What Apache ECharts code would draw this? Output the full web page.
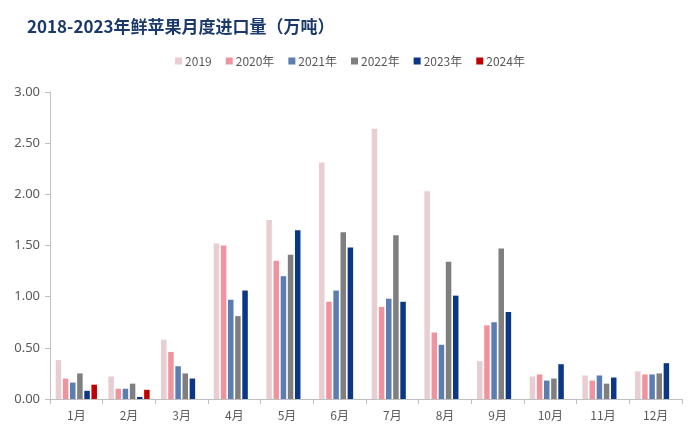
<!DOCTYPE html>
<html>
<head>
<meta charset="utf-8">
<script src="https://cdn.jsdelivr.net/npm/echarts@6/dist/echarts.min.js"></script>
<style>html,body{margin:0;padding:0;background:#fff}#c{width:700px;height:434px}</style>
</head>
<body>
<div id="c"></div>
<script>
const categories = ['1月','2月','3月','4月','5月','6月','7月','8月','9月','10月','11月','12月'];
const seriesNames = ['2019','2020年','2021年','2022年','2023年','2024年'];
const s2019 = [0.38,0.22,0.58,1.52,1.75,2.31,2.64,2.03,0.37,0.22,0.23,0.27];
const s2020 = [0.20,0.10,0.46,1.50,1.35,0.95,0.90,0.65,0.72,0.24,0.18,0.24];
const s2021 = [0.16,0.10,0.32,0.97,1.20,1.06,0.98,0.53,0.75,0.18,0.23,0.24];
const s2022 = [0.25,0.15,0.25,0.81,1.41,1.63,1.60,1.34,1.47,0.20,0.15,0.25];
const s2023 = [0.08,0.02,0.20,1.06,1.65,1.48,0.95,1.01,0.85,0.34,0.21,0.35];
const s2024 = [0.14,0.09,null,null,null,null,null,null,null,null,null,null];
const colors = ['#E8CDD1','#EF949E','#5A7DB2','#7F7F7F','#0B3786','#C00000'];
const allData = [s2019,s2020,s2021,s2022,s2023,s2024];

const chart = echarts.init(document.getElementById('c'));
chart.setOption({
  animation:false,
  title:{text:'2018-2023年鲜苹果月度进口量（万吨）',left:22,top:13,
    textStyle:{fontFamily:'Noto Sans CJK SC',fontWeight:'bold',fontSize:17,color:'#1B3A6B'}},
  legend:{top:50,left:'center',itemWidth:7,itemHeight:7,itemGap:14,icon:'rect',
    textStyle:{fontFamily:'Noto Sans CJK SC',fontSize:12,color:'#595959',padding:[0,0,0,-2]},
    data:seriesNames},
  grid:{left:50,right:18,top:92,bottom:35},
  xAxis:{type:'category',data:categories,
    axisLine:{lineStyle:{color:'#BFBFBF'}},
    axisTick:{show:true,length:5,lineStyle:{color:'#BFBFBF'}},
    axisLabel:{fontFamily:'Noto Sans CJK SC',fontSize:12,color:'#595959',margin:10}},
  yAxis:{type:'value',min:0,max:3,interval:0.5,
    axisLine:{show:true,lineStyle:{color:'#BFBFBF'}},
    axisTick:{show:true,length:5,lineStyle:{color:'#BFBFBF'}},
    splitLine:{show:false},
    axisLabel:{fontFamily:'Noto Sans',fontSize:13,color:'#595959',margin:10,
      formatter:v=>v.toFixed(2)}},
  series:seriesNames.map((n,i)=>({name:n,type:'bar',data:allData[i],barWidth:5.5,barGap:'30%',
    itemStyle:{color:colors[i]}}))
});
</script>
</body>
</html>
